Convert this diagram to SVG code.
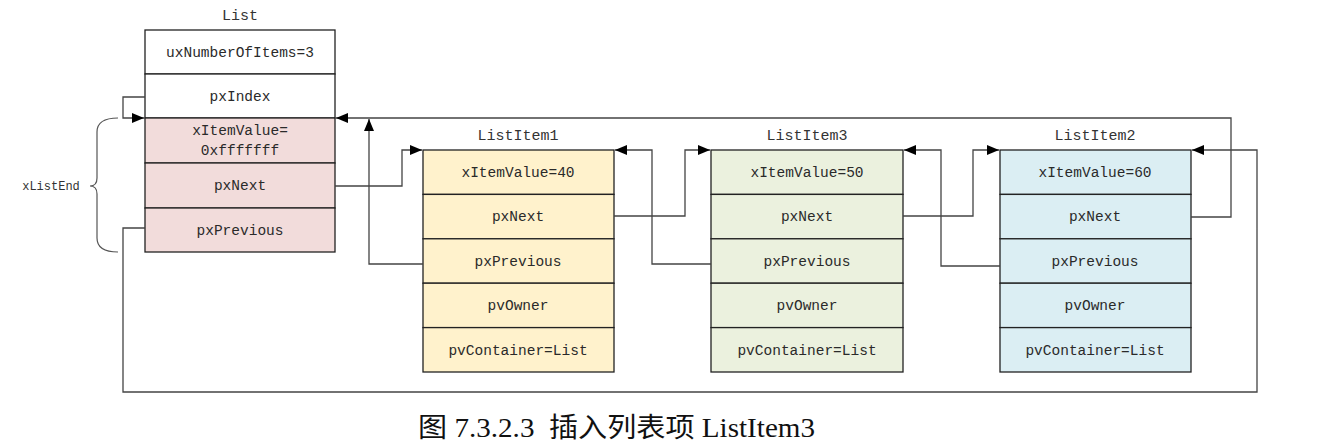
<svg xmlns="http://www.w3.org/2000/svg" width="1323" height="447" viewBox="0 0 1323 447">
  <style>
    .cell { stroke: #222; stroke-width: 1.3; }
    .t { font-family: "Liberation Mono", "DejaVu Sans Mono", monospace; font-size: 14.5px; fill: #2a2a2a; text-anchor: middle; }
    .title { font-family: "Liberation Mono", "DejaVu Sans Mono", monospace; font-size: 15px; fill: #333; text-anchor: middle; }
    .wire { fill: none; stroke: #444; stroke-width: 1.3; }
    .cap { font-family: "Liberation Serif", "Noto Sans CJK SC", serif; font-size: 27px; fill: #111; white-space: pre; }
  </style>
  <defs>
    <marker id="arr" viewBox="0 0 12 10" refX="12" refY="5" markerWidth="12" markerHeight="10" markerUnits="userSpaceOnUse" orient="auto">
      <path d="M0,0 L12,5 L0,10 z" fill="#000"/>
    </marker>
  </defs>

  <rect width="1323" height="447" fill="#fff"/>

  <!-- List -->
  <g id="list">
    <text class="title" x="240" y="20">List</text>
    <rect class="cell" x="145" y="30" width="190" height="44" fill="#fff"/>
    <rect class="cell" x="145" y="74" width="190" height="44" fill="#fff"/>
    <rect class="cell" x="145" y="118" width="190" height="45" fill="#f2dcdb"/>
    <rect class="cell" x="145" y="163" width="190" height="45" fill="#f2dcdb"/>
    <rect class="cell" x="145" y="208" width="190" height="44" fill="#f2dcdb"/>
    <text class="t" x="240" y="57">uxNumberOfItems=3</text>
    <text class="t" x="240" y="101">pxIndex</text>
    <text class="t" x="240" y="135">xItemValue=</text>
    <text class="t" x="240" y="155">0xfffffff</text>
    <text class="t" x="240" y="190">pxNext</text>
    <text class="t" x="240" y="235">pxPrevious</text>
  </g>

  <!-- xListEnd brace -->
  <g id="xListEnd">
    <path d="M118,118 Q97,118 97,132 L97,178 Q97,186 90,186 Q97,186 97,194 L97,238 Q97,252 118,252" fill="none" stroke="#555" stroke-width="1.2"/>
    <text x="51" y="190" font-family="Liberation Mono, DejaVu Sans Mono, monospace" font-size="12" fill="#333" text-anchor="middle">xListEnd</text>
  </g>

  <!-- ListItem1 -->
  <g id="listitem1">
    <text class="title" x="518" y="140">ListItem1</text>
    <rect class="cell" x="423" y="150" width="191" height="44.4" fill="#fff2cc"/>
    <rect class="cell" x="423" y="194.4" width="191" height="44.4" fill="#fff2cc"/>
    <rect class="cell" x="423" y="238.8" width="191" height="44.4" fill="#fff2cc"/>
    <rect class="cell" x="423" y="283.2" width="191" height="44.4" fill="#fff2cc"/>
    <rect class="cell" x="423" y="327.6" width="191" height="44.4" fill="#fff2cc"/>
    <text class="t" x="518" y="177">xItemValue=40</text>
    <text class="t" x="518" y="221">pxNext</text>
    <text class="t" x="518" y="266">pxPrevious</text>
    <text class="t" x="518" y="310">pvOwner</text>
    <text class="t" x="518" y="355">pvContainer=List</text>
  </g>

  <!-- ListItem3 -->
  <g id="listitem3">
    <text class="title" x="807" y="140">ListItem3</text>
    <rect class="cell" x="711" y="150" width="192" height="44.4" fill="#ebf1de"/>
    <rect class="cell" x="711" y="194.4" width="192" height="44.4" fill="#ebf1de"/>
    <rect class="cell" x="711" y="238.8" width="192" height="44.4" fill="#ebf1de"/>
    <rect class="cell" x="711" y="283.2" width="192" height="44.4" fill="#ebf1de"/>
    <rect class="cell" x="711" y="327.6" width="192" height="44.4" fill="#ebf1de"/>
    <text class="t" x="807" y="177">xItemValue=50</text>
    <text class="t" x="807" y="221">pxNext</text>
    <text class="t" x="807" y="266">pxPrevious</text>
    <text class="t" x="807" y="310">pvOwner</text>
    <text class="t" x="807" y="355">pvContainer=List</text>
  </g>

  <!-- ListItem2 -->
  <g id="listitem2">
    <text class="title" x="1095" y="140">ListItem2</text>
    <rect class="cell" x="1000" y="150" width="191" height="44.4" fill="#dbeef3"/>
    <rect class="cell" x="1000" y="194.4" width="191" height="44.4" fill="#dbeef3"/>
    <rect class="cell" x="1000" y="238.8" width="191" height="44.4" fill="#dbeef3"/>
    <rect class="cell" x="1000" y="283.2" width="191" height="44.4" fill="#dbeef3"/>
    <rect class="cell" x="1000" y="327.6" width="191" height="44.4" fill="#dbeef3"/>
    <text class="t" x="1095" y="177">xItemValue=60</text>
    <text class="t" x="1095" y="221">pxNext</text>
    <text class="t" x="1095" y="266">pxPrevious</text>
    <text class="t" x="1095" y="310">pvOwner</text>
    <text class="t" x="1095" y="355">pvContainer=List</text>
  </g>

  <!-- pointers -->
  <g id="connectors">
    <!-- pxIndex -> xListEnd -->
    <path class="wire" d="M145,97 H123 V118 H144" marker-end="url(#arr)"/>
    <!-- List pxPrevious -> ListItem2 -->
    <path class="wire" d="M145,228 H123 V392 H1257 V150 H1192" marker-end="url(#arr)"/>
    <!-- List pxNext -> ListItem1 -->
    <path class="wire" d="M335,186 H402 V150 H422" marker-end="url(#arr)"/>
    <!-- ListItem2 pxNext -> xListEnd -->
    <path class="wire" d="M1191,217 H1231 V118 H336" marker-end="url(#arr)"/>
    <!-- ListItem1 pxPrevious -> xListEnd -->
    <path class="wire" d="M423,264 H369 V119" marker-end="url(#arr)"/>
    <!-- ListItem1 pxNext -> ListItem3 -->
    <path class="wire" d="M614,216 H685 V150 H710" marker-end="url(#arr)"/>
    <!-- ListItem3 pxPrevious -> ListItem1 -->
    <path class="wire" d="M711,264 H652 V150 H615" marker-end="url(#arr)"/>
    <!-- ListItem3 pxNext -> ListItem2 -->
    <path class="wire" d="M903,216 H973 V150 H999" marker-end="url(#arr)"/>
    <!-- ListItem2 pxPrevious -> ListItem3 -->
    <path class="wire" d="M1000,266 H941 V150 H904" marker-end="url(#arr)"/>
  </g>

  <text class="cap" x="418" y="437" textLength="397" lengthAdjust="spacingAndGlyphs">图 7.3.2.3  插入列表项 ListItem3</text>
</svg>
